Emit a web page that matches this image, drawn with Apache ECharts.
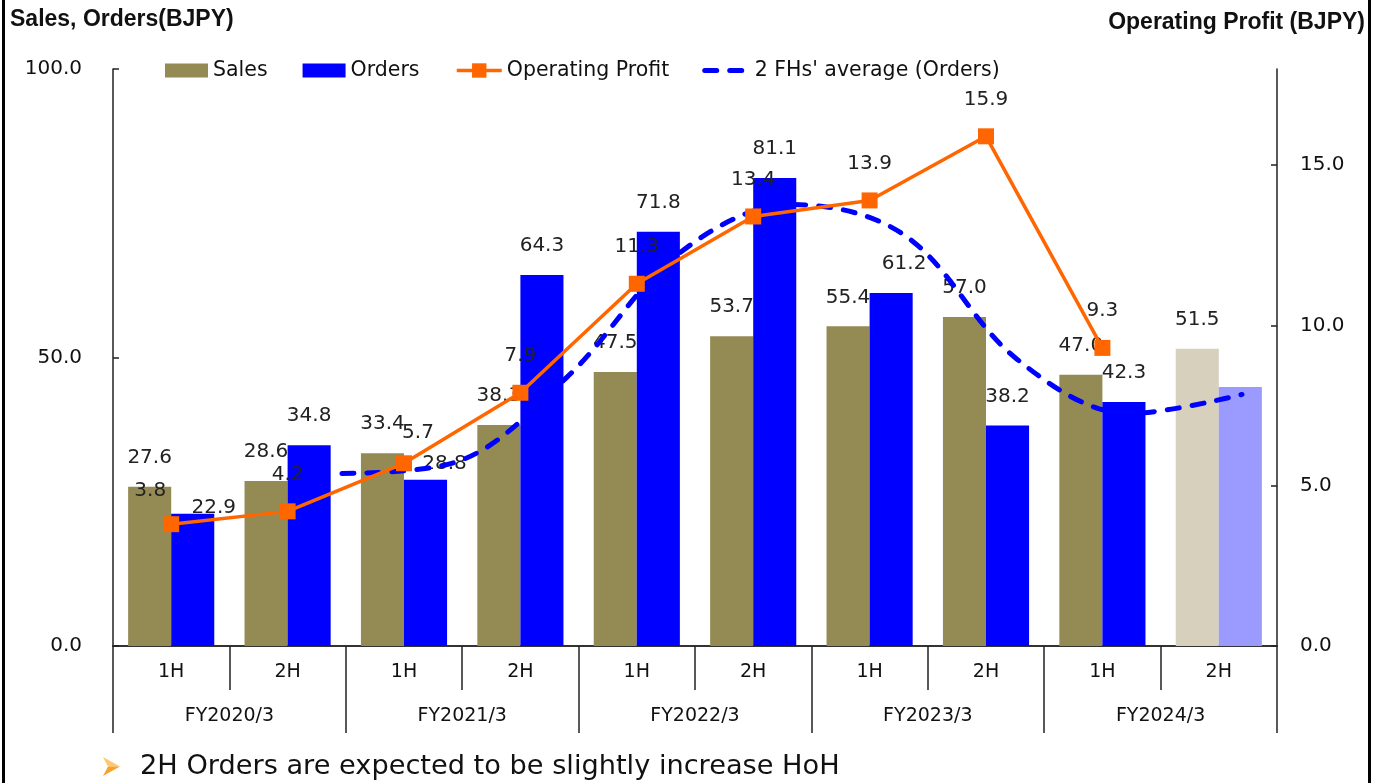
<!DOCTYPE html>
<html>
<head>
<meta charset="utf-8">
<script src="https://cdn.jsdelivr.net/npm/echarts@6/dist/echarts.min.js"></script>
<style>
  html, body { margin: 0; padding: 0; background: #fff; }
  #chart { width: 1382px; height: 783px; }
</style>
</head>
<body>
<div id="chart"></div>
<script>
// Half-year categories and fiscal years (two-level x axis)
const halves = ['1H', '2H', '1H', '2H', '1H', '2H', '1H', '2H', '1H', '2H'];
const fiscalYears = ['FY2020/3', 'FY2021/3', 'FY2022/3', 'FY2023/3', 'FY2024/3'];

// Values in billions of JPY; the last half of FY2024/3 is a forecast
const sales = [27.6, 28.6, 33.4, 38.3, 47.5, 53.7, 55.4, 57.0, 47.0, 51.5];
const orders = [22.9, 34.8, 28.8, 64.3, 71.8, 81.1, 61.2, 38.2, 42.3, 44.9];
const operatingProfit = [3.8, 4.2, 5.7, 7.9, 11.3, 13.4, 13.9, 15.9, 9.3];
// Average of orders over the latest two halves (from 2H FY2020/3 onward)
const ordersTwoHalfAvg = [29.9, 31.8, 46.6, 68.1, 76.5, 71.2, 49.7, 40.3, 43.6];
const avgPeriods = ['FY2020/3 2H', 'FY2021/3 1H', 'FY2021/3 2H', 'FY2022/3 1H', 'FY2022/3 2H',
                    'FY2023/3 1H', 'FY2023/3 2H', 'FY2024/3 1H', 'FY2024/3 2H'];

const leftTicks = { min: 0, max: 100, interval: 50 };
const rightTicks = { min: 0, max: 18, interval: 5 };

// Styling
const FONT = 'DejaVu Sans';
const SALES_COLOR = '#948A54';
const SALES_FORECAST = '#D6D0BD';
const ORDERS_COLOR = '#0000FF';
const ORDERS_FORECAST = '#9B9BFF';
const OP_COLOR = '#FF6600';
const LABEL_COLOR = '#222';
const forecastIndex = 9;

// Hand-placed label nudges (pixels) where labels would collide
const ordersLabelShift = { 0: [21, 23], 2: [19, 13], 6: [13, 0] };
const opLabelShift = { 0: [-21, 4], 2: [14, 7] };

const fmt1 = v => Number(v).toFixed(1);

const labelBase = {
  show: true, position: 'top', distance: 19,
  fontFamily: FONT, fontSize: 20, color: LABEL_COLOR,
  formatter: p => fmt1(p.value)
};

const avgLineStyle = { color: ORDERS_COLOR, width: 5, type: [12, 13], cap: 'round' };
const opLineStyle = { color: OP_COLOR, width: 3.5 };

const salesData = sales.map((v, i) => ({
  value: v,
  itemStyle: { color: i === forecastIndex ? SALES_FORECAST : SALES_COLOR }
}));

const ordersData = orders.map((v, i) => {
  const item = { value: v, itemStyle: { color: i === forecastIndex ? ORDERS_FORECAST : ORDERS_COLOR } };
  if (i === forecastIndex) item.label = { show: false };
  else if (ordersLabelShift[i]) item.label = { offset: ordersLabelShift[i] };
  return item;
});

const opData = operatingProfit.map((v, i) => {
  const item = { value: v };
  if (opLabelShift[i]) item.label = { offset: opLabelShift[i] };
  return item;
});

const legendText = { fontFamily: FONT, fontSize: 20.5, color: '#111' };

const chart = echarts.init(document.getElementById('chart'), null, { renderer: 'canvas' });

const option = {
  animation: false,
  backgroundColor: '#fff',
  textStyle: { fontFamily: FONT },
  legend: [
    {
      left: 160, top: 55,
      itemWidth: 43, itemHeight: 14, itemGap: 35,
      textStyle: legendText,
      data: [
        { name: 'Sales', icon: 'rect' },
        { name: 'Orders', icon: 'rect' }
      ]
    },
    {
      left: 450, top: 55,
      itemWidth: 45, itemHeight: 18, itemGap: 33,
      textStyle: legendText,
      data: [
        { name: 'Operating Profit', lineStyle: opLineStyle },
        { name: "2 FHs' average (Orders)", lineStyle: avgLineStyle, itemStyle: { opacity: 0 } }
      ]
    }
  ],
  grid: [
    { left: 113, right: 105, top: 69, bottom: 137 },
    { left: 342, right: 140, top: 69, bottom: 137 }
  ],
  xAxis: [
    {
      type: 'category', gridIndex: 0, position: 'bottom', data: halves,
      axisLine: { show: true, lineStyle: { color: '#333', width: 2 } },
      axisTick: { show: true, interval: 0, length: 44, lineStyle: { color: '#222', width: 1.5 } },
      axisLabel: { interval: 0, margin: 17, fontFamily: FONT, fontSize: 19, color: '#111' }
    },
    {
      type: 'category', gridIndex: 0, position: 'bottom', data: fiscalYears,
      axisLine: { show: false },
      axisTick: { show: true, interval: 0, length: 87, lineStyle: { color: '#222', width: 1.5 } },
      axisLabel: { interval: 0, margin: 61, fontFamily: FONT, fontSize: 19, color: '#111' }
    },
    {
      type: 'category', gridIndex: 1, data: avgPeriods, boundaryGap: false, show: false
    }
  ],
  yAxis: [
    {
      type: 'value', gridIndex: 0, position: 'left',
      min: leftTicks.min, max: leftTicks.max, interval: leftTicks.interval,
      axisLine: { show: true, lineStyle: { color: '#222', width: 1.5 } },
      axisTick: { show: true, inside: true, length: 6, lineStyle: { color: '#222', width: 1.5 } },
      splitLine: { show: false },
      axisLabel: { margin: 31, fontFamily: FONT, fontSize: 20, color: '#111', formatter: v => fmt1(v) }
    },
    {
      type: 'value', gridIndex: 0, position: 'right',
      min: rightTicks.min, max: rightTicks.max, interval: rightTicks.interval,
      axisLine: { show: true, lineStyle: { color: '#222', width: 1.5 } },
      axisTick: { show: true, inside: true, length: 6, lineStyle: { color: '#222', width: 1.5 } },
      splitLine: { show: false },
      axisLabel: { margin: 23, showMaxLabel: false, fontFamily: FONT, fontSize: 20, color: '#111', formatter: v => fmt1(v) }
    },
    {
      type: 'value', gridIndex: 1, min: leftTicks.min, max: leftTicks.max, show: false
    }
  ],
  series: [
    {
      name: 'Sales', type: 'bar', xAxisIndex: 0, yAxisIndex: 0,
      barGap: '0%', barCategoryGap: '26%',
      itemStyle: { color: SALES_COLOR },
      label: labelBase,
      data: salesData, z: 2
    },
    {
      name: 'Orders', type: 'bar', xAxisIndex: 0, yAxisIndex: 0,
      barGap: '0%', barCategoryGap: '26%',
      itemStyle: { color: ORDERS_COLOR },
      label: labelBase,
      data: ordersData, z: 2
    },
    {
      name: "2 FHs' average (Orders)", type: 'line', xAxisIndex: 2, yAxisIndex: 2,
      smooth: 0.35, symbol: 'none', showSymbol: false,
      lineStyle: avgLineStyle,
      itemStyle: { color: ORDERS_COLOR },
      data: ordersTwoHalfAvg, z: 3
    },
    {
      name: 'Operating Profit', type: 'line', xAxisIndex: 0, yAxisIndex: 1,
      symbol: 'rect', symbolSize: 16,
      lineStyle: opLineStyle,
      itemStyle: { color: OP_COLOR },
      label: labelBase,
      data: opData, z: 4
    }
  ],
  graphic: [
    { type: 'text', left: 10, top: 8,
      style: { text: 'Sales, Orders(BJPY)', font: 'bold 23px "Liberation Sans"', fill: '#111' } },
    { type: 'text', right: 17, top: 11,
      style: { text: 'Operating Profit (BJPY)', font: 'bold 23px "Liberation Sans"', fill: '#111' } },
    { type: 'polygon', shape: { points: [[103, 757], [120, 766.5], [108, 766.5]] },
      style: { fill: '#FFC76E' } },
    { type: 'polygon', shape: { points: [[108, 766.5], [120, 766.5], [103, 776]] },
      style: { fill: '#F6A22D' } },
    { type: 'text', left: 140, top: 753,
      style: { text: '2H Orders are expected to be slightly increase HoH', font: '27.2px "DejaVu Sans"', fill: '#111' } },
    { type: 'rect', shape: { x: 2, y: 0, width: 3, height: 783 }, style: { fill: '#000' } },
    { type: 'rect', shape: { x: 1368, y: 0, width: 3, height: 783 }, style: { fill: '#000' } }
  ]
};

chart.setOption(option);
</script>
</body>
</html>
